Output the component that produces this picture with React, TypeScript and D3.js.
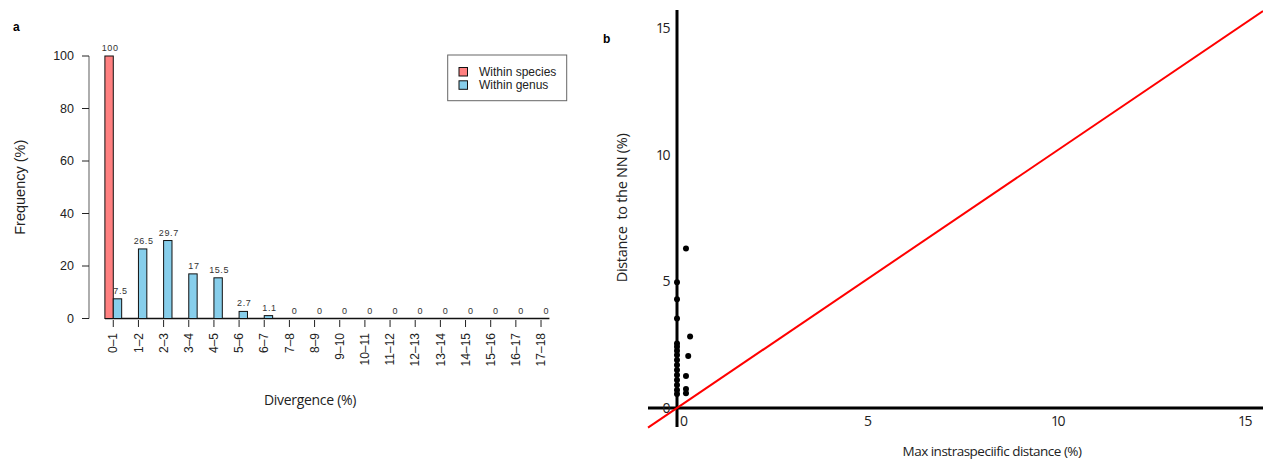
import React from 'react';
import * as d3 from 'd3';

// Panel a: divergence histogram
const categories = ['0–1', '1–2', '2–3', '3–4', '4–5', '5–6', '6–7', '7–8', '8–9', '9–10',
  '10–11', '11–12', '12–13', '13–14', '14–15', '15–16', '16–17', '17–18'];
const withinSpecies = [100, 0, 0, 0, 0, 0, 0, 0, 0, 0, 0, 0, 0, 0, 0, 0, 0, 0];
const withinGenus = [7.5, 26.5, 29.7, 17, 15.5, 2.7, 1.1, 0, 0, 0, 0, 0, 0, 0, 0, 0, 0, 0];
const seriesNames = ['Within species', 'Within genus'];
const freqTicks = [0, 20, 40, 60, 80, 100];

// Panel b: max intraspecific distance vs distance to nearest neighbour
const maxIntra = [0, 0, 0, 0, 0, 0, 0, 0, 0, 0, 0, 0, 0, 0, 0, 0.24, 0.35, 0.3, 0.24, 0.24, 0.24];
const nnDist = [4.96, 4.29, 3.53, 2.55, 2.42, 2.26, 2.09, 1.89, 1.7, 1.5, 1.3, 1.11, 0.91, 0.71, 0.55,
  6.3, 2.82, 2.05, 1.26, 0.75, 0.58];
const distTicks = [0, 5, 10, 15];

const colors = ['#ff8080', '#87ceeb'];
const arial = 'Liberation Sans, Arial, sans-serif';
const openSans = '"Open Sans", sans-serif';

const App = () => {
  // ---- panel a scales
  const x = d3.scaleBand<string>()
    .domain(categories)
    .range([100.7, 553.6])
    .paddingInner(1 / 3)
    .paddingOuter(1 / 6);
  const xs = d3.scaleBand<string>()
    .domain(seriesNames)
    .range([0, x.bandwidth()]);
  const y = d3.scaleLinear().domain([0, 100]).range([318.5, 56]);

  const rows = categories.map((c, i) => ({ c, vals: [withinSpecies[i], withinGenus[i]] }));

  // ---- panel b scales
  const bx = d3.scaleLinear().domain([0, 15]).range([677, 1238]);
  const by = d3.scaleLinear().domain([0, 15]).range([408, 28]);
  const lineX = [bx.invert(648), bx.invert(1263)];
  const diag = d3.line<number>().x(d => bx(d)).y(d => by(d));

  return (
    <svg width={1263} height={461} style={{ position: 'absolute', left: 0, top: 0, background: '#fff' }}>
      {/* ===== panel a ===== */}
      <text x={13} y={31} fontFamily={arial} fontWeight="bold" fontSize={12}>a</text>

      {/* y axis */}
      <line x1={89} x2={89} y1={y(0)} y2={y(100)} stroke="#777" strokeWidth={1.2} />
      {freqTicks.map(t => (
        <g key={t}>
          <line x1={82} x2={89} y1={y(t)} y2={y(t)} stroke="#222" />
          <text x={74} y={y(t)} dy="0.35em" textAnchor="end" fontFamily={arial} fontSize={12.5} fill="#222">{t}</text>
        </g>
      ))}
      <text transform={`translate(20,${y(50)}) rotate(-90)`} dy="0.35em" textAnchor="middle"
        fontFamily={arial} fontSize={14.5} fill="#222">Frequency (%)</text>

      {/* baseline + ticks */}
      <line x1={x(categories[0])!} x2={x(categories[categories.length - 1])! + x.bandwidth()}
        y1={y(0)} y2={y(0)} stroke="#111" strokeWidth={1.5} />
      {categories.map(c => {
        const cx = x(c)! + x.bandwidth() / 2;
        return (
          <g key={c}>
            <line x1={cx} x2={cx} y1={320} y2={327} stroke="#222" />
            <text transform={`translate(${cx},333) rotate(-90)`} dy="0.35em" textAnchor="end"
              fontFamily={arial} fontSize={12} fill="#222">{c}</text>
          </g>
        );
      })}

      {/* bars */}
      {rows.map(r => (
        <g key={r.c} transform={`translate(${x(r.c)},0)`}>
          {r.vals.map((v, j) => (
            <rect key={j} x={xs(seriesNames[j])} y={y(v)} width={xs.bandwidth()}
              height={y(0) - y(v)} fill={colors[j]} stroke="#111" strokeWidth={1} />
          ))}
        </g>
      ))}
      {rows.map(r => (
        <g key={'lab' + r.c} transform={`translate(${x(r.c)},0)`}>
          {r.vals.map((v, j) => (j === 1 || v > 0) ? (
            <text key={j} x={xs(seriesNames[j])! + xs.bandwidth() / 2 + (j === 1 && r.c === categories[0] ? 3 : 1)}
              y={y(v) - 5} textAnchor="middle" fontFamily={arial} fontSize={9} letterSpacing={0.6} fill="#333">{v}</text>
          ) : null)}
        </g>
      ))}

      <text x={310} y={405} textAnchor="middle" fontFamily={openSans} fontSize={14} letterSpacing={-0.3} fill="#222">Divergence (%)</text>

      {/* legend */}
      <rect x={447.7} y={55} width={119} height={45.7} fill="#fff" stroke="#666" />
      {seriesNames.map((s, j) => (
        <g key={s}>
          <rect x={459} y={67.5 + j * 13.3} width={8.5} height={8.5} fill={colors[j]} stroke="#111" />
          <text x={479} y={71.7 + j * 13.3} dy="0.35em" fontFamily={arial} fontSize={12} fill="#222">{s}</text>
        </g>
      ))}

      {/* ===== panel b ===== */}
      <text x={603} y={43} fontFamily={arial} fontWeight="bold" fontSize={12}>b</text>

      <line x1={648} x2={1263} y1={by(0)} y2={by(0)} stroke="#000" strokeWidth={3} />
      <line x1={bx(0)} x2={bx(0)} y1={10} y2={427} stroke="#000" strokeWidth={3} />

      {distTicks.map(t => (
        <g key={t}>
          <text x={669} y={by(t)} dy="0.35em" textAnchor="end" fontFamily={openSans} fontSize={14}
            letterSpacing={-1.5} fill="#222">{t}</text>
          <text x={bx(t) + (t === 0 ? 3 : 0)} y={426} textAnchor="start" fontFamily={openSans} fontSize={14}
            letterSpacing={-1.5} fill="#222">{t}</text>
        </g>
      ))}

      <path d={diag(lineX) ?? ''} stroke="#ff0000" strokeWidth={2} fill="none" />

      {maxIntra.map((v, i) => (
        <circle key={i} cx={bx(v)} cy={by(nnDist[i])} r={3} fill="#000" />
      ))}

      <text transform={`translate(622,208) rotate(-90)`} dy="0.35em" textAnchor="middle"
        fontFamily={openSans} fontSize={14.5} letterSpacing={-0.3} fill="#222" style={{ whiteSpace: 'pre' }}>
        {'Distance  to the NN (%)'}
      </text>
      <text x={992} y={456} textAnchor="middle" fontFamily={openSans} fontSize={13.5}
        letterSpacing={-0.5} fill="#222">Max instraspeciific distance (%)</text>
    </svg>
  );
};

export default App;
